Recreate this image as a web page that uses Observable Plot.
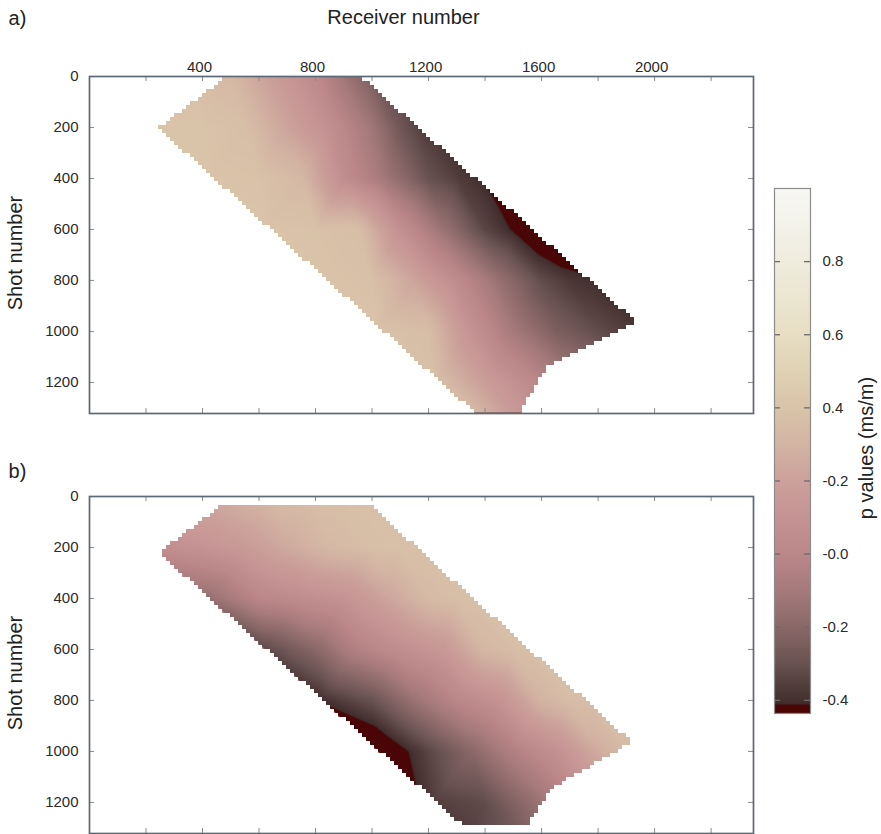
<!DOCTYPE html>
<html><head><meta charset="utf-8">
<script src="https://cdn.jsdelivr.net/npm/d3@7"></script>
<script src="https://cdn.jsdelivr.net/npm/@observablehq/plot@0.6"></script>
<style>
body{margin:0;background:#fff;}
#fig{position:relative;width:881px;height:834px;overflow:hidden;font-family:"Liberation Sans",Arial,sans-serif;background:#fff;}
#fig > div{position:absolute;}
</style></head><body>
<div id="fig"><div id="pa" style="left:0;top:0"></div><div id="pb" style="left:0;top:420px"></div><div id="cb" style="left:760px;top:170px"></div></div>
<script>
// ---------- data ----------
const receiverDomain = [0, 2350];
const shotDomain = [0, 1322];
const receiverTickLabels = [400, 800, 1200, 1600, 2000];
const receiverMinorTicks = [200, 400, 600, 800, 1000, 1200, 1400, 1600, 1800, 2000, 2200];
const shotTicks = [0, 200, 400, 600, 800, 1000, 1200];

// sample grid: shot number x offset (receiver - shot)
const shotNodes = [0, 200, 400, 600, 800, 1000, 1200, 1320];
const offsetNodes = [20, 200, 350, 500, 650, 800, 900, 980];

// p values, panel a (rows = shotNodes, columns = offsetNodes)
const pA = [
  [0.40, 0.40, 0.38, 0.33, 0.18, 0.03, -0.12, -0.22],
  [0.40, 0.40, 0.37, 0.22, 0.07, -0.12, -0.28, -0.36],
  [0.40, 0.39, 0.33, 0.06, -0.12, -0.30, -0.36, -0.40],
  [0.40, 0.39, 0.37, 0.08, -0.14, -0.34, -0.42, -0.50],
  [0.40, 0.38, 0.22, 0.04, -0.15, -0.32, -0.38, -0.40],
  [0.40, 0.36, 0.10, -0.10, -0.24, -0.32, -0.36, -0.39],
  [0.38, 0.18, 0.04, -0.10, -0.20, -0.28, -0.32, -0.34],
  [0.36, 0.14, 0.02, -0.10, -0.20, -0.28, -0.32, -0.34]
];
// p values, panel b
const pB = [
  [0.15, 0.20, 0.24, 0.28, 0.34, 0.37, 0.38, 0.38],
  [0.05, 0.10, 0.16, 0.25, 0.33, 0.37, 0.38, 0.38],
  [-0.16, 0.00, 0.05, 0.10, 0.22, 0.34, 0.37, 0.38],
  [-0.33, -0.20, -0.04, 0.06, 0.14, 0.32, 0.36, 0.38],
  [-0.40, -0.30, -0.14, 0.00, 0.10, 0.30, 0.36, 0.37],
  [-0.52, -0.34, -0.20, -0.05, 0.08, 0.26, 0.34, 0.36],
  [-0.36, -0.32, -0.18, -0.02, 0.10, 0.22, 0.30, 0.34],
  [-0.36, -0.26, -0.12, 0.00, 0.08, 0.20, 0.30, 0.34]
];

// data footprint outlines (shot, receiver)
const footA = {
  leftShot: [1, 200, 1315], leftReceiver: [480, 241, 1356],
  rightShot: [1, 965, 1141, 1315], rightReceiver: [962, 1936, 1618, 1522]
};
const footB = {
  leftShot: [31, 220, 1294], leftReceiver: [467, 244, 1322],
  rightShot: [31, 965, 1141, 1294], rightReceiver: [991, 1919, 1640, 1547]
};

// colour map
const colorDomain = [-0.436, -0.412, -0.41, -0.4, -0.3, -0.2, -0.1, 0.0, 0.1, 0.2, 0.3, 0.4, 0.5, 0.6, 0.7, 0.8, 0.9, 1.0];
const colorRange = ["#4a0606", "#4a0606", "#3e2b2b", "#43302f", "#6a5252", "#8a6868", "#a67a7b", "#bb8789", "#c59394", "#cba09a", "#d3b4a3", "#d9c3a9", "#e0d2b5", "#e7dec3", "#ebe6d0", "#efecdd", "#f3f2ea", "#f7f7f4"];
const colorbarTicks = [0.8, 0.6, 0.4, 0.2, 0.0, -0.2, -0.4];
const colorbarLabels = ["0.8", "0.6", "0.4", "-0.2", "-0.0", "-0.2", "-0.4"];

// ---------- drawing ----------
const FONT = '"Liberation Sans", Arial, sans-serif';
const colorScale = {type: "linear", domain: colorDomain, range: colorRange, clamp: true, interpolate: "rgb"};
const innerW = 664, innerH = 337;
const plain = d => String(d);

function panel(p, foot, tag, showTop, height, marginBottom) {
  const samples = [];
  shotNodes.forEach((s, i) => offsetNodes.forEach((o, j) => samples.push({receiver: s + o, shot: s, p: p[i][j]})));
  const [x0, x1] = receiverDomain, [y0, y1] = shotDomain;
  // footprint polygon in (receiver, shot): left side top->bottom, then right side bottom->top
  const poly = [
    ...foot.leftShot.map((s, i) => [foot.leftReceiver[i], s]),
    ...foot.rightShot.map((s, i) => [foot.rightReceiver[i], s]).reverse()
  ];
  return Plot.plot({
    width: 770, height, marginLeft: 89, marginRight: 17, marginTop: 76, marginBottom,
    style: {fontFamily: FONT, fontSize: "15px", color: "#2a2a2a", background: "white"},
    x: {domain: receiverDomain, axis: null},
    y: {domain: shotDomain, reverse: true, axis: null},
    color: colorScale,
    opacity: {domain: [0, 1], range: [0, 1]},
    marks: [
      Plot.raster(samples, {x: "receiver", y: "shot", fill: "p", interpolate: "barycentric", pixelSize: 1}),
      // white mask outside the acquisition footprint, on a coarse grid (stair-stepped edges)
      Plot.raster({x1: x0, x2: x1, y1: y0, y2: y1, fill: "white",
        fillOpacity: (x, y) => d3.polygonContains(poly, [x, y]) ? 0 : 1,
        pixelSize: 4, imageRendering: "pixelated"}),
      Plot.tickX(receiverMinorTicks, {x: d => d, insetBottom: innerH - 5, stroke: "#8a8a8a"}),
      Plot.tickX(receiverMinorTicks, {x: d => d, insetTop: innerH - 5, stroke: "#8a8a8a"}),
      Plot.tickY(shotTicks, {y: d => d, insetRight: innerW - 5, stroke: "#8a8a8a"}),
      Plot.tickY(shotTicks, {y: d => d, insetLeft: innerW - 5, stroke: "#8a8a8a"}),
      Plot.frame({stroke: "#5d6977", strokeWidth: 1.7}),
      Plot.axisY({anchor: "left", ticks: shotTicks, tickFormat: plain, tickSize: 0, tickPadding: 11, label: null, fontSize: 15}),
      showTop ? Plot.axisX({anchor: "top", ticks: receiverTickLabels, tickFormat: plain, tickSize: 0, tickPadding: 5, label: null, fontSize: 15, dx: -3}) : null,
      showTop ? Plot.text(["Receiver number"], {text: d => d, frameAnchor: "top", lineAnchor: "middle", dx: -18, dy: -59, fontSize: 20, fill: "#222"}) : null,
      Plot.text([tag], {text: d => d, frameAnchor: "top-left", textAnchor: "middle", lineAnchor: "middle", dx: -72, dy: showTop ? -58 : -25, fontSize: 20, fill: "#222"}),
      Plot.text(["Shot number"], {text: d => d, frameAnchor: "left", rotate: -90, textAnchor: "middle", lineAnchor: "middle", dx: -74, dy: 8, fontSize: 20, fill: "#222"})
    ]
  });
}

document.getElementById("pa").append(panel(pA, footA, "a)", true, 420, 7));
document.getElementById("pb").append(panel(pB, footB, "b)", false, 414, 1));

const cMin = colorDomain[0], cMax = colorDomain[colorDomain.length - 1];
const colorbar = Plot.plot({
  width: 121, height: 560, marginLeft: 14, marginRight: 71, marginTop: 18, marginBottom: 17,
  style: {fontFamily: FONT, fontSize: "15px", color: "#2a2a2a", background: "white"},
  x: {domain: [0, 1], axis: null},
  y: {domain: [cMin, cMax], axis: null},
  color: colorScale,
  marks: [
    Plot.raster({fill: (x, y) => y, x1: 0, x2: 1, y1: cMin, y2: cMax, pixelSize: 1}),
    Plot.tickY(colorbarTicks, {y: d => d, insetRight: 30, stroke: "#6a6a6a", strokeWidth: 1.3}),
    Plot.tickY(colorbarTicks, {y: d => d, insetLeft: 30, stroke: "#6a6a6a", strokeWidth: 1.3}),
    Plot.frame({stroke: "#8c8c8c", strokeWidth: 1.2}),
    Plot.axisY({anchor: "right", ticks: colorbarTicks, tickFormat: d => colorbarLabels[colorbarTicks.indexOf(d)], tickSize: 0, tickPadding: 12, label: null, fontSize: 15}),
    Plot.text(["p values (ms/m)"], {text: d => d, frameAnchor: "right", rotate: -90, textAnchor: "middle", lineAnchor: "middle", dx: 56, dy: -3, fontSize: 20, fill: "#222"})
  ]
});
document.getElementById("cb").append(colorbar);
</script>
</body></html>
